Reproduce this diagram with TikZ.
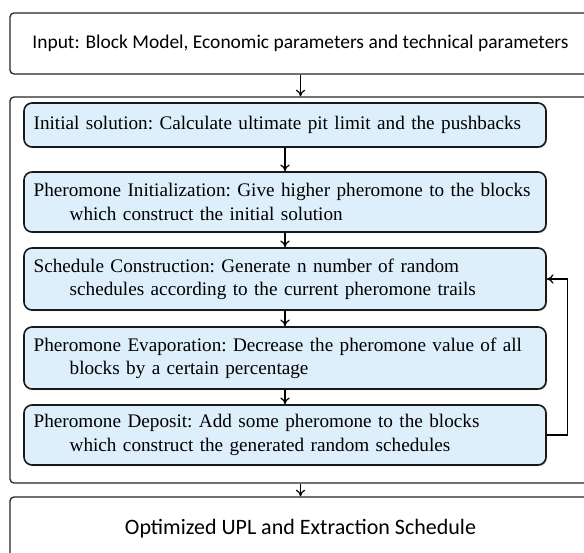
\documentclass[tikz,border=0pt]{standalone}
\usepackage{fontspec}
\setmainfont{Liberation Serif}
\newfontfamily\calfont{Carlito}
\usetikzlibrary{arrows.meta,shadows}
\definecolor{paleblue}{RGB}{222,239,252}

\begin{document}
\begin{tikzpicture}[
  x=0.75pt, y=-0.75pt,
  frame/.style={draw=black!85, line width=1pt, rounded corners=3pt,
                minimum width=435.75pt, font=\calfont\fontsize{14.6}{17}\selectfont},
  stage/.style={draw=black!90, line width=1.2pt, rounded corners=6pt, fill=paleblue,
                minimum width=391.5pt, text width=377pt, inner xsep=7.25pt, align=left,
                font=\frenchspacing\fontsize{14.4}{17.5}\selectfont,
                drop shadow={shadow xshift=0.8pt, shadow yshift=-0.8pt, fill=black!45}},
  >={To[length=5pt,width=7pt]}, line width=0.9pt
]
  \path[use as bounding box, clip] (0,0) rectangle (584,552);

  \node[frame, minimum height=45.75pt] (inp) at (300.5,43.5)
      {Input: Block Model, Economic parameters and technical parameters};
  \node[frame, minimum height=289.5pt] (grp) at (300.5,290) {};
  \node[frame, minimum height=48pt, font=\calfont\fontsize{16.5}{19}\selectfont] (out) at (300.5,529)
      {Optimized UPL and Extraction Schedule};

  \node[stage, minimum height=33pt] (is) at (285,125)
      {Initial solution: Calculate ultimate pit limit and the pushbacks};
  \node[stage, minimum height=45pt] (pi) at (285,202)
      {Pheromone Initialization: Give higher pheromone to the blocks\\\hspace*{27pt}which construct the initial solution};
  \node[stage, minimum height=46.5pt] (sc) at (285,279)
      {Schedule Construction: Generate n number of random\\\hspace*{27pt}schedules according to the current pheromone trails};
  \node[stage, minimum height=46.5pt] (pe) at (285,358)
      {Pheromone Evaporation: Decrease the pheromone value of all\\\hspace*{27pt}blocks by a certain percentage};
  \node[stage, minimum height=45pt] (pd) at (285,435)
      {Pheromone Deposit: Add some pheromone to the blocks\\\hspace*{27pt}which construct the generated random schedules};

  \draw[->] (inp) -- (grp);
  \draw[->] (grp) -- (out);
  \draw[->] (is) -- (pi);
  \draw[->] (pi) -- (sc);
  \draw[->] (sc) -- (pe);
  \draw[->] (pe) -- (pd);
  \draw[->] (pd.east) -- ++(21,0) |- (sc.east);
\end{tikzpicture}
\end{document}
